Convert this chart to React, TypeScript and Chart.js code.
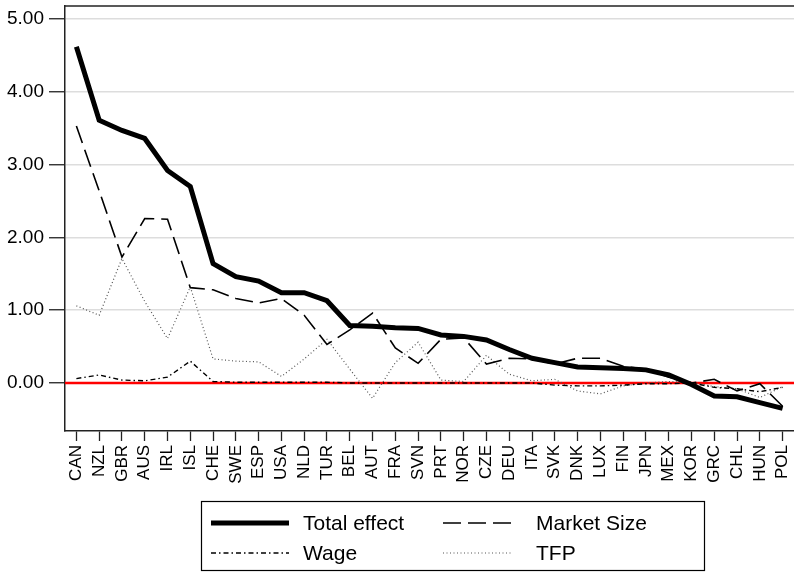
import React, { useEffect, useRef } from "react";
import { Chart, registerables } from "chart.js";

Chart.register(...registerables);

const categories = ["CAN","NZL","GBR","AUS","IRL","ISL","CHE","SWE","ESP","USA","NLD","TUR","BEL","AUT","FRA","SVN","PRT","NOR","CZE","DEU","ITA","SVK","DNK","LUX","FIN","JPN","MEX","KOR","GRC","CHL","HUN","POL"];

const totalEffect = [4.62, 3.61, 3.47, 3.36, 2.92, 2.70, 1.64, 1.46, 1.40, 1.24, 1.24, 1.13, 0.79, 0.78, 0.76, 0.75, 0.66, 0.64, 0.59, 0.46, 0.34, 0.28, 0.22, 0.21, 0.20, 0.18, 0.11, -0.02, -0.18, -0.19, -0.27, -0.35];

const marketSize = [3.53, 2.64, 1.73, 2.26, 2.25, 1.31, 1.28, 1.16, 1.10, 1.16, 0.93, 0.53, 0.73, 0.96, 0.48, 0.27, 0.60, 0.62, 0.26, 0.34, 0.33, 0.26, 0.34, 0.34, 0.23, 0.19, 0.08, 0.00, 0.05, -0.11, -0.01, -0.32];

const wage = [0.06, 0.11, 0.04, 0.03, 0.08, 0.30, 0.02, 0.01, 0.01, 0.01, 0.01, 0.01, 0.00, 0.00, 0.00, 0.00, 0.00, 0.00, 0.00, 0.00, 0.00, -0.03, -0.04, -0.04, -0.03, -0.01, -0.01, 0.00, -0.06, -0.08, -0.12, -0.06];

const tfp = [1.06, 0.93, 1.71, 1.12, 0.61, 1.32, 0.33, 0.30, 0.29, 0.09, 0.33, 0.60, 0.19, -0.21, 0.28, 0.56, 0.04, 0.02, 0.38, 0.12, 0.03, 0.05, -0.11, -0.15, -0.04, 0.00, 0.02, 0.01, -0.05, -0.08, -0.20, -0.05];

const yTicks = [0, 1, 2, 3, 4, 5];
const yMin = -0.66;
const yMax = 5.18;

const FONT = "'Liberation Sans', Arial, Helvetica, sans-serif";

const seriesStyles = [
  { label: "Total effect", data: totalEffect, color: "#000000", width: 5, dash: [] as number[] },
  { label: "Market Size", data: marketSize, color: "#000000", width: 1.6, dash: [18, 7] },
  { label: "Wage", data: wage, color: "#000000", width: 1.4, dash: [5, 3, 1.5, 3] },
  { label: "TFP", data: tfp, color: "#555555", width: 1.2, dash: [1, 2.5] },
];

const framePlugin = {
  id: "framePlugin",
  beforeDatasetsDraw(chart: any) {
    const { ctx, chartArea, scales } = chart;
    const y0 = scales.y.getPixelForValue(0);
    ctx.save();
    ctx.strokeStyle = "#ff0000";
    ctx.lineWidth = 2.5;
    ctx.beginPath();
    ctx.moveTo(chartArea.left, y0);
    ctx.lineTo(chartArea.right, y0);
    ctx.stroke();
    ctx.restore();
  },
  afterDraw(chart: any) {
    const { ctx, chartArea } = chart;
    ctx.save();
    ctx.strokeStyle = "#222222";
    ctx.lineWidth = 1.5;
    ctx.beginPath();
    ctx.moveTo(chartArea.left, chartArea.top);
    ctx.lineTo(chartArea.right, chartArea.top);
    ctx.stroke();

    ctx.lineWidth = 1.2;
    ctx.strokeStyle = "#000000";
    ctx.strokeRect(201.5, 501.5, 503, 69);

    const rows = [523, 553];
    const cols = [{ x0: 211, x1: 289, tx: 303 }, { x0: 443, x1: 513, tx: 536 }];
    seriesStyles.forEach((s, i) => {
      const r = Math.floor(i / 2);
      const c = cols[i % 2];
      const y = rows[r];
      ctx.beginPath();
      ctx.setLineDash(s.dash);
      ctx.lineWidth = s.width;
      ctx.strokeStyle = s.color;
      ctx.lineCap = "butt";
      ctx.moveTo(c.x0, y);
      ctx.lineTo(c.x1, y);
      ctx.stroke();
      ctx.setLineDash([]);
      ctx.fillStyle = "#000000";
      ctx.font = `21px ${FONT}`;
      ctx.textBaseline = "middle";
      ctx.textAlign = "left";
      ctx.fillText(s.label, c.tx, y + 1);
    });
    ctx.restore();
  },
};

export default function App() {
  const canvasRef = useRef<HTMLCanvasElement | null>(null);

  useEffect(() => {
    const canvas = canvasRef.current;
    if (!canvas) return;
    const chart = new Chart(canvas, {
      type: "line",
      data: {
        labels: categories,
        datasets: seriesStyles.map((s) => ({
          label: s.label,
          data: s.data,
          borderColor: s.color,
          borderWidth: s.width,
          borderDash: s.dash,
          borderCapStyle: "butt",
          borderJoinStyle: "miter",
          pointRadius: 0,
          pointHoverRadius: 0,
          fill: false,
          tension: 0,
        })),
      },
      options: {
        animation: false,
        responsive: false,
        devicePixelRatio: 1,
        events: [],
        layout: { padding: { top: 6, left: 0, right: 0, bottom: 0 } },
        plugins: {
          legend: { display: false },
          tooltip: { enabled: false },
          title: { display: false },
        },
        scales: {
          x: {
            type: "category",
            offset: true,
            grid: {
              display: true,
              offset: false,
              drawOnChartArea: false,
              drawTicks: true,
              tickLength: 10,
              tickColor: "#222222",
              tickWidth: 1.3,
            },
            border: { display: true, color: "#222222", width: 1.5 },
            ticks: {
              autoSkip: false,
              minRotation: 90,
              maxRotation: 90,
              padding: 4,
              color: "#000000",
              font: { family: FONT, size: 17 },
            },
            afterFit: (scale: any) => {
              scale.height = 143;
              scale.paddingLeft = 0;
              scale.paddingRight = 0;
            },
          },
          y: {
            type: "linear",
            min: yMin,
            max: yMax,
            afterBuildTicks: (axis: any) => {
              axis.ticks = yTicks.map((v) => ({ value: v }));
            },
            grid: {
              display: true,
              color: "#dddddd",
              lineWidth: 1.5,
              drawTicks: true,
              tickLength: 16,
              tickColor: "#222222",
              tickWidth: 1.3,
            },
            border: { display: true, color: "#222222", width: 1.5 },
            ticks: {
              padding: 5,
              color: "#000000",
              font: { family: FONT, size: 19 },
              callback: (v: any) => Number(v).toFixed(2),
            },
            afterFit: (scale: any) => {
              scale.width = 65;
              scale.paddingTop = 0;
              scale.paddingBottom = 0;
            },
          },
        },
      },
      plugins: [framePlugin],
    });
    return () => chart.destroy();
  }, []);

  return (
    <div style={{ position: "absolute", left: 0, top: 0, width: 794, height: 574, background: "#ffffff" }}>
      <canvas ref={canvasRef} width={794} height={574} style={{ display: "block", width: 794, height: 574 }} />
    </div>
  );
}
